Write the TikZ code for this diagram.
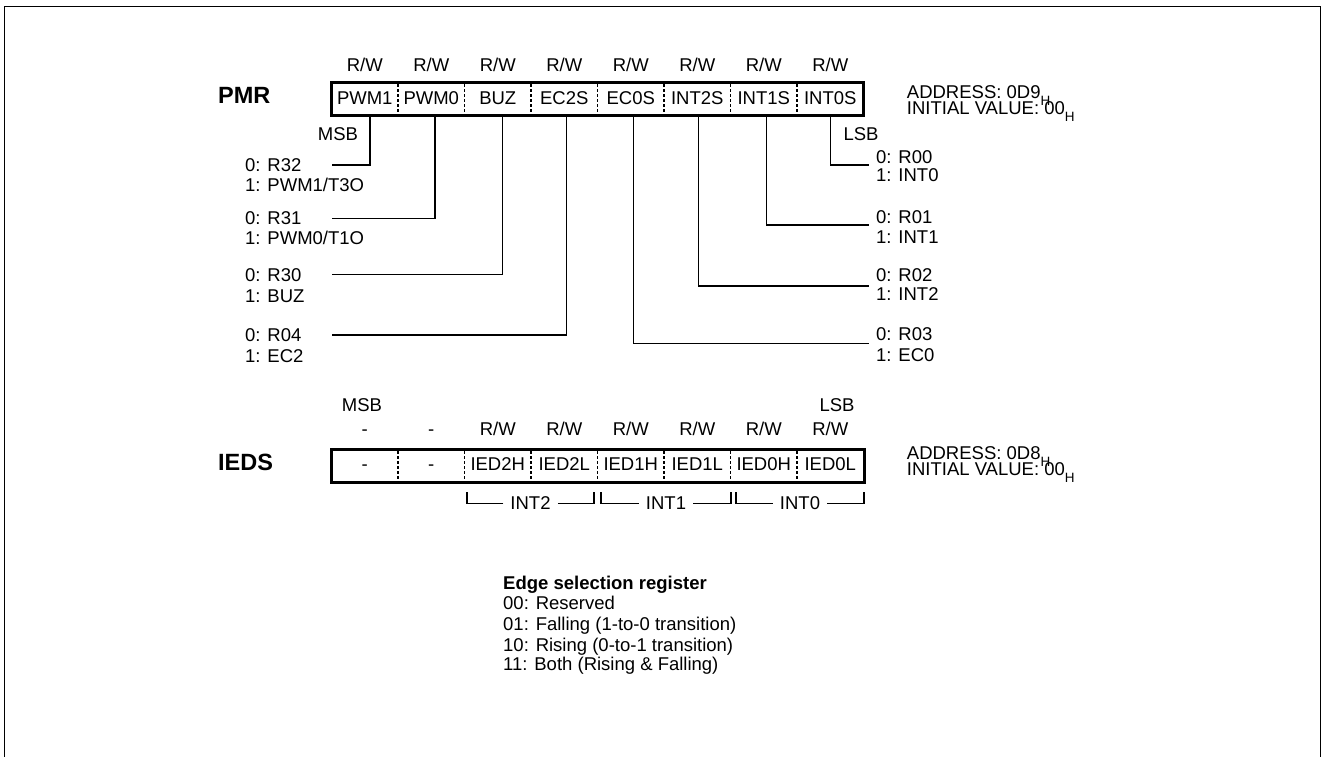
\documentclass[tikz,border=0pt]{standalone}
\usepackage{fontspec}
\setmainfont{Liberation Sans}
\newcommand{\subH}{\raisebox{-7pt}{\fontsize{13.5}{14}\selectfont H}}
\begin{document}
\begin{tikzpicture}[x=1pt,y=-1pt,
  txt/.style={font=\fontsize{18.5}{20}\selectfont, inner sep=0pt},
  ttl/.style={font=\fontsize{23.5}{26}\selectfont\bfseries, inner sep=0pt},
  regbox/.style={line width=3pt},
  divider/.style={line width=1.8pt, dash pattern=on 2.5pt off 2.5pt},
  wire/.style={line width=1.2pt},
  frame/.style={line width=1.3pt},
  brk/.style={txt, inner xsep=7pt}]
\useasboundingbox (0,0) rectangle (1322,756);
\draw[frame] (4.5,770) -- (4.5,6.3) -- (1320.5,6.3) -- (1320.5,770);

% ---------------- PMR ----------------
\node[ttl, anchor=base west] (pmr) at (218,103.3) {PMR};
\foreach \t [count=\i] in {PWM1,PWM0,BUZ,EC2S,EC0S,INT2S,INT1S,INT0S}{
  \node[txt, anchor=base] (p\i) at ({331.5+66.5*(\i-0.5)},104) {\t};
  \node[txt, anchor=base] (prw\i) at ({331.5+66.5*(\i-0.5)},71.5) {R/W};
}
\draw[regbox] (331.5,82.3) rectangle (863.5,115.7);
\foreach \k in {1,...,7}
  \draw[divider] ({331.5+66.5*\k},84) -- ({331.5+66.5*\k},114);
\node[txt, anchor=base] (pmsb) at (338,140) {MSB};
\node[txt, anchor=base] (plsb) at (861,140) {LSB};
\node[txt, anchor=base west] (padr) at (906.7,98) {ADDRESS: 0D9\subH};
\node[txt, anchor=base west] (pini) at (906.7,114) {INITIAL VALUE: 00\subH};

% bit taps
\foreach \x [count=\i] in {370,435,502.3,566.7,633.3,698.7,766.7,830.7}
  \coordinate (b\i) at (\x,115.7);

% left labels
\node[txt, anchor=base west] (a10) at (245,171.7) {0: R32};
\node[txt, anchor=base west] (a11) at (245,191.5) {1: PWM1/T3O};
\node[txt, anchor=base west] (a20) at (245,224.3) {0: R31};
\node[txt, anchor=base west] (a21) at (245,244.3) {1: PWM0/T1O};
\node[txt, anchor=base west] (a30) at (245,281.7) {0: R30};
\node[txt, anchor=base west] (a31) at (245,302.7) {1: BUZ};
\node[txt, anchor=base west] (a40) at (245,341.7) {0: R04};
\node[txt, anchor=base west] (a41) at (245,362.7) {1: EC2};
\coordinate (l1) at (332,165);
\coordinate (l2) at (332,218.3);
\coordinate (l3) at (332,274.3);
\coordinate (l4) at (332,335);
\draw[wire] (b1) |- (l1);
\draw[wire] (b2) |- (l2);
\draw[wire] (b3) |- (l3);
\draw[wire] (b4) |- (l4);

% right labels
\node[txt, anchor=base west] (c80) at (876,163.3) {0: R00};
\node[txt, anchor=base west] (c81) at (876,181.7) {1: INT0};
\node[txt, anchor=base west] (c70) at (876,223.3) {0: R01};
\node[txt, anchor=base west] (c71) at (876,243.3) {1: INT1};
\node[txt, anchor=base west] (c60) at (876,281) {0: R02};
\node[txt, anchor=base west] (c61) at (876,300.7) {1: INT2};
\node[txt, anchor=base west] (c50) at (876,340.7) {0: R03};
\node[txt, anchor=base west] (c51) at (876,361) {1: EC0};
\coordinate (r8) at (869,165);
\coordinate (r7) at (869,225);
\coordinate (r6) at (869,286);
\coordinate (r5) at (869,343.3);
\draw[wire] (b8) |- (r8);
\draw[wire] (b7) |- (r7);
\draw[wire] (b6) |- (r6);
\draw[wire] (b5) |- (r5);

% ---------------- IEDS ----------------
\node[ttl, anchor=base west] (ieds) at (218,470) {IEDS};
\foreach \t/\a [count=\i] in {-/-,-/-,IED2H/R\slash W,IED2L/R\slash W,IED1H/R\slash W,IED1L/R\slash W,IED0H/R\slash W,IED0L/R\slash W}{
  \node[txt, anchor=base] (q\i) at ({331.5+66.5*(\i-0.5)},470.5) {\t};
  \node[txt, anchor=base] (qrw\i) at ({331.5+66.5*(\i-0.5)},435) {\a};
}
\draw[regbox] (331.5,449.3) rectangle (864,482.7);
\foreach \k in {1,...,7}
  \draw[divider] ({331.5+66.5*\k},451) -- ({331.5+66.5*\k},481);
\node[txt, anchor=base] (qmsb) at (362,411.7) {MSB};
\node[txt, anchor=base] (qlsb) at (837,411.7) {LSB};
\node[txt, anchor=base west] (qadr) at (906.7,459) {ADDRESS: 0D8\subH};
\node[txt, anchor=base west] (qini) at (906.7,475) {INITIAL VALUE: 00\subH};

% brackets
\coordinate (k2a) at (467,491.7);  \coordinate (k2b) at (594,491.7);
\coordinate (k1a) at (601,491.7);  \coordinate (k1b) at (731,491.7);
\coordinate (k0a) at (736,491.7);  \coordinate (k0b) at (864,491.7);
\node[brk] (g2) at (530.5,503.3) {INT2};
\node[brk] (g1) at (666,503.3) {INT1};
\node[brk] (g0) at (800,503.3) {INT0};
\draw[wire] (g2.west) -| (k2a);  \draw[wire] (g2.east) -| (k2b);
\draw[wire] (g1.west) -| (k1a);  \draw[wire] (g1.east) -| (k1b);
\draw[wire] (g0.west) -| (k0a);  \draw[wire] (g0.east) -| (k0b);

% ---------------- legend ----------------
\node[txt, anchor=base west, font=\fontsize{18.5}{20}\selectfont\bfseries] (e0) at (503,589) {Edge selection register};
\node[txt, anchor=base west] (e1) at (503,609.3) {00: Reserved};
\node[txt, anchor=base west] (e2) at (503,630) {01: Falling (1-to-0 transition)};
\node[txt, anchor=base west] (e3) at (503,651) {10: Rising (0-to-1 transition)};
\node[txt, anchor=base west] (e4) at (503,670) {11: Both (Rising \& Falling)};
\end{tikzpicture}
\end{document}
